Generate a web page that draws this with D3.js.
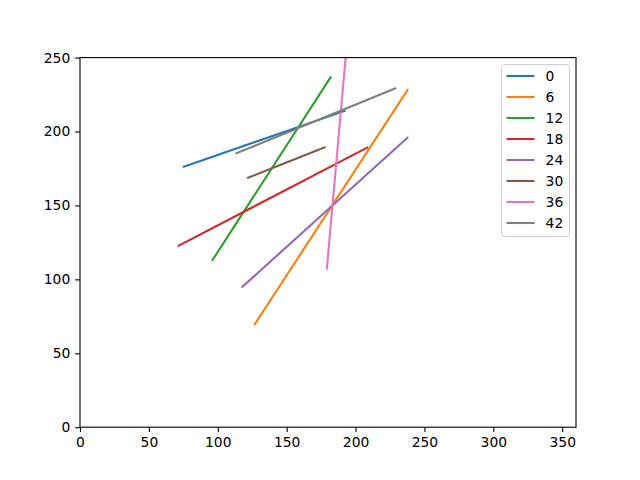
<!DOCTYPE html>
<html><head><meta charset="utf-8">
<script src="https://cdn.jsdelivr.net/npm/d3@7"></script>
<style>body{margin:0;background:#fff}svg{display:block}text{font-family:"DejaVu Sans",sans-serif}</style>
</head><body>
<script>
const labels = ["0","6","12","18","24","30","36","42"];
const colors = ["#1f77b4","#ff7f0e","#2ca02c","#d62728","#9467bd","#8c564b","#e377c2","#7f7f7f"];
const x0 = [75.4, 126.8, 96.2, 71.7, 117.9, 122.0, 179.2, 113.6];
const y0 = [176.2, 69.6, 113.1, 122.8, 95.0, 168.8, 107.5, 185.3];
const x1 = [192.0, 237.7, 181.9, 208.5, 237.7, 177.5, 194.7, 228.8];
const y1 = [213.9, 228.1, 236.7, 189.1, 195.8, 189.3, 270.0, 229.2];
const xTicks = [0,50,100,150,200,250,300,350];
const yTicks = [0,50,100,150,200,250];

const W=640,H=480, L=80,R=576,T=57.6,B=427.2;
const svg=d3.select("body").append("svg").attr("width",W).attr("height",H);
const x=d3.scaleLinear().domain([0,360]).range([L,R]);
const y=d3.scaleLinear().domain([0,250]).range([B,T]);
svg.append("defs").append("clipPath").attr("id","c").append("rect").attr("x",L).attr("y",T).attr("width",R-L).attr("height",B-T);
const g=svg.append("g").attr("clip-path","url(#c)");
labels.forEach((lab,i)=>{
  g.append("line").attr("x1",x(x0[i])).attr("y1",y(y0[i])).attr("x2",x(x1[i])).attr("y2",y(y1[i]))
   .attr("stroke",colors[i]).attr("stroke-width",2.08).attr("stroke-linecap","square");
});
const fs=13.89;
const xa=svg.append("g").attr("transform",`translate(0,${B})`).call(d3.axisBottom(x).tickValues(xTicks).tickSize(4.86).tickPadding(4.86).tickFormat(d3.format("d")));
const ya=svg.append("g").attr("transform",`translate(${L},0)`).call(d3.axisLeft(y).tickValues(yTicks).tickSize(4.86).tickPadding(4.86).tickFormat(d3.format("d")));
[xa,ya].forEach(a=>{a.select(".domain").remove();a.selectAll("text").attr("font-size",fs).attr("font-family","DejaVu Sans").attr("fill","#000");a.selectAll("line").attr("stroke","#000").attr("stroke-width",1.1);});
svg.append("rect").attr("x",L).attr("y",T).attr("width",R-L).attr("height",B-T).attr("fill","none").attr("stroke","#000").attr("stroke-width",1.1);
// legend
const lg=svg.append("g");
lg.append("rect").attr("x",501.5).attr("y",64.6).attr("width",68).attr("height",172).attr("rx",2.8)
  .attr("fill","#fff").attr("fill-opacity",0.8).attr("stroke","#cccccc").attr("stroke-width",1);
labels.forEach((lab,i)=>{
  const yy=76+i*21;
  lg.append("line").attr("x1",506.5).attr("x2",534.5).attr("y1",yy).attr("y2",yy).attr("stroke",colors[i]).attr("stroke-width",2.08);
  lg.append("text").attr("x",545.6).attr("y",yy).attr("dy","0.36em").attr("font-size",fs).text(lab);
});
</script>
</body></html>
